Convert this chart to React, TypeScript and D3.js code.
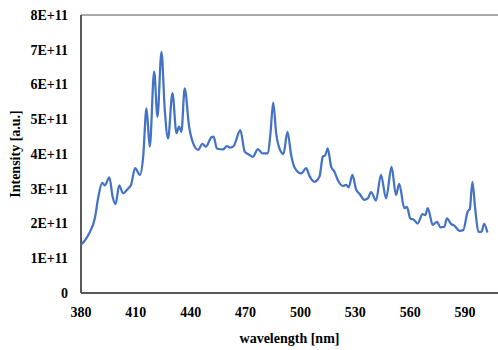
import React from "react";
import * as d3 from "d3";

const wavelengths = [
  380, 384, 387.6, 389.5, 391.6, 393, 395.5, 397.3, 398.9, 400.9, 403, 405.8, 407.3, 409.6, 412.2, 414,
  415.8, 417.6, 420, 421.8, 424, 425.8, 427.6, 430, 432.2, 433.6, 434.9, 436.7, 439.1, 441.3, 444, 446.4,
  448.2, 451.3, 452.5, 454.3, 457.6, 459.8, 461.6, 463.5, 464.5, 467.1, 469.5, 471.3, 474, 476.7, 479.1,
  482.2, 483.6, 485.1, 486.7, 488.5, 490.7, 492.9, 494.9, 496.7, 500.4, 503.1, 504.9, 507.6, 510.4, 512.2,
  513.6, 514.9, 516.8, 518.6, 520.4, 523.1, 525, 526.4, 528.4, 530.4, 532.4, 534.9, 536.8, 538.6, 541.3,
  544, 546.8, 549.8, 552.2, 554, 556.8, 558.2, 560, 562.2, 564, 566.8, 568.2, 569.6, 572.3, 574.7, 576.5,
  578.6, 580.1, 582.3, 584.1, 586.9, 589, 591.4, 592.6, 594, 595.5, 597.3, 599, 600.4, 602.2,
];

const intensity = [
  1.38, 1.67, 2.16, 2.77, 3.17, 3.1, 3.33, 2.77, 2.56, 3.1, 2.87, 3.01, 3.1, 3.59, 3.4, 3.92,
  5.31, 4.21, 6.37, 5.07, 6.94, 5.27, 4.45, 5.75, 4.6, 4.79, 4.64, 5.89, 4.79, 4.31, 4.12, 4.29,
  4.21, 4.48, 4.5, 4.16, 4.13, 4.23, 4.18, 4.23, 4.35, 4.69, 4.07, 4.0, 3.92, 4.14, 4.02,
  4.02, 4.6, 5.48, 4.6, 4.16, 4.0, 4.64, 3.97, 3.62, 3.44, 3.59, 3.37, 3.2, 3.35, 3.92,
  3.97, 4.16, 3.63, 3.49, 3.25, 3.08, 3.11, 3.04, 3.4, 2.98, 2.85, 2.68, 2.72, 2.9, 2.66,
  3.4, 2.72, 3.63, 2.82, 3.14, 2.44, 2.48, 2.15, 2.1, 2.0, 2.27, 2.24, 2.44, 1.96, 2.05, 1.89,
  1.9, 2.15, 1.99, 1.94, 1.79, 1.81, 2.34, 2.42, 3.2, 2.44, 1.76, 1.76, 1.99, 1.74,
].map((v) => v * 1e11);

const yTicks = [0, 1e11, 2e11, 3e11, 4e11, 5e11, 6e11, 7e11, 8e11];
const yTickLabels = ["0", "1E+11", "2E+11", "3E+11", "4E+11", "5E+11", "6E+11", "7E+11", "8E+11"];
const xTicks = [380, 410, 440, 470, 500, 530, 560, 590];

export default function App() {
  const W = 498;
  const H = 350;
  const left = 81;
  const right = 498;
  const top = 15;
  const bottom = 293;

  const x = d3.scaleLinear().domain([380, 608]).range([left, right]);
  const y = d3.scaleLinear().domain([0, 8e11]).range([bottom, top]);

  const data = wavelengths.map((w, i) => [w, intensity[i]] as [number, number]);
  const line = d3
    .line<[number, number]>()
    .x((d) => x(d[0]))
    .y((d) => y(d[1]))
    .curve(d3.curveMonotoneX);

  const font = "'Liberation Serif', 'Times New Roman', serif";

  return (
    <svg
      width={W}
      height={H}
      style={{ position: "absolute", left: 0, top: 0, background: "#fff" }}
    >
      <line x1={left} x2={right} y1={top} y2={top} stroke="#8c8c8c" strokeWidth={1.5} />
      <line x1={left} x2={left} y1={top} y2={bottom} stroke="#595959" strokeWidth={2} />
      <line x1={left} x2={right} y1={bottom} y2={bottom} stroke="#595959" strokeWidth={2} />
      <path d={line(data) || ""} fill="none" stroke="#4472C4" strokeWidth={2.25} strokeLinejoin="round" />
      {yTicks.map((t, i) => (
        <text
          key={"y" + i}
          x={68}
          y={y(t)}
          dy="0.35em"
          textAnchor="end"
          fontFamily={font}
          fontWeight="bold"
          fontSize={14}
          fill="#000"
        >
          {yTickLabels[i]}
        </text>
      ))}
      {xTicks.map((t) => (
        <text
          key={"x" + t}
          x={x(t)}
          y={317}
          textAnchor="middle"
          fontFamily={font}
          fontWeight="bold"
          fontSize={14}
          fill="#000"
        >
          {t}
        </text>
      ))}
      <text
        x={(left + right) / 2}
        y={343}
        textAnchor="middle"
        fontFamily={font}
        fontWeight="bold"
        fontSize={14}
        fill="#000"
      >
        wavelength [nm]
      </text>
      <text
        transform={`translate(20, ${(top + bottom) / 2}) rotate(-90)`}
        textAnchor="middle"
        fontFamily={font}
        fontWeight="bold"
        fontSize={14}
        fill="#000"
      >
        Intensity [a.u.]
      </text>
    </svg>
  );
}
